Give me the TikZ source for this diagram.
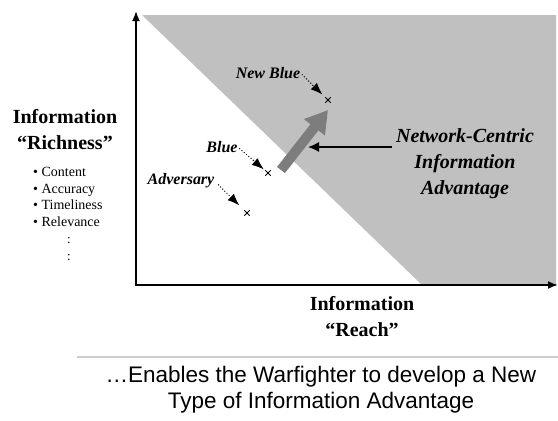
\documentclass[tikz,border=0pt]{standalone}
\usepackage{fontspec}
\setmainfont{Liberation Serif}
\newfontfamily\capfont{Liberation Sans}
\usetikzlibrary{arrows.meta,shapes.misc}
\definecolor{zonegray}{RGB}{192,192,192}
\definecolor{arrgray}{RGB}{125,125,125}
\definecolor{rulegray}{RGB}{205,205,205}
\begin{document}
\begin{tikzpicture}[x=1pt,y=-1pt,
  biglabel/.style={font=\fontsize{20}{26}\selectfont\bfseries, align=center, inner sep=0pt},
  ptlabel/.style={font=\fontsize{16}{19}\selectfont\bfseries\itshape, inner sep=0pt},
  marker/.style={cross out, draw, line width=0.9pt, minimum size=4.5pt, inner sep=0pt},
  dotarrow/.style={dotted, line width=1pt, -{Latex[length=12pt,width=9pt]}},
  axisline/.style={line width=1.8pt, {Latex[length=10pt,width=8pt]}-{Latex[length=10pt,width=8pt]}},
  bigarrow/.style={arrgray, line width=10pt, -{Triangle[length=22pt,width=25pt]}}
]
\useasboundingbox (0,0) rectangle (558,421);
\fill[white] (0,0) rectangle (558,421);

% shaded advantage zone
\fill[zonegray] (142,15) -- (556,15) -- (556,285) -- (422,285) -- cycle;

% axes
\coordinate (ytop) at (136,11);
\coordinate (orig) at (136,285);
\coordinate (xend) at (558,285);
\draw[axisline] (ytop) -- (orig) -- (xend);

% axis labels
\node[biglabel] (rich) at (65,130) {Information\\“Richness”};
\node[anchor=west, align=left, inner sep=0pt, font=\fontsize{14}{16.8}\selectfont] (crit) at (33,197)
  {• Content\\• Accuracy\\• Timeliness\\• Relevance};
\node[align=center, inner sep=0pt, font=\fontsize{13}{17}\selectfont] (more) at (69,249) {:\\:};
\node[biglabel] (reach) at (362,317) {Information\\“Reach”};

% points
\node[marker] (pNB) at (328,100) {};
\node[marker] (pB) at (268,173) {};
\node[marker] (pA) at (247,213) {};
\node[ptlabel] (lNB) at (268,73) {New Blue};
\node[ptlabel] (lB) at (222,147) {Blue};
\node[ptlabel] (lA) at (181,181) {Adversary};
\draw[dotarrow, shorten <=2pt, shorten >=4pt] (lNB.east) -- (pNB);
\draw[dotarrow, shorten <=2pt, shorten >=2pt] (lB.east) -- (pB);
\draw[dotarrow, shorten <=5pt, shorten >=7pt] (lA.east) -- (pA);

% big gray shift arrow
\coordinate (gstart) at (281,170);
\coordinate (gend) at (328,110);
\draw[bigarrow] (gstart) -- (gend);

% network-centric label
\node[font=\fontsize{20}{26}\selectfont\bfseries\itshape, align=center, inner sep=0pt] (nc) at (465,164)
  {Network-Centric\\Information\\Advantage};
\coordinate (ncend) at (308,147);
\draw[line width=1.5pt, -{Latex[length=11pt,width=10pt]}] ([xshift=-4pt]nc.west |- ncend) -- (ncend);

% bottom rule and caption
\draw[rulegray, line width=1.5pt] (77,357) -- (558,357);
\node[font=\capfont\fontsize{22.5}{26}\selectfont, align=center, inner sep=0pt] (cap) at (321,390)
  {…Enables the Warfighter to develop a New\\Type of Information Advantage};
\end{tikzpicture}
\end{document}
